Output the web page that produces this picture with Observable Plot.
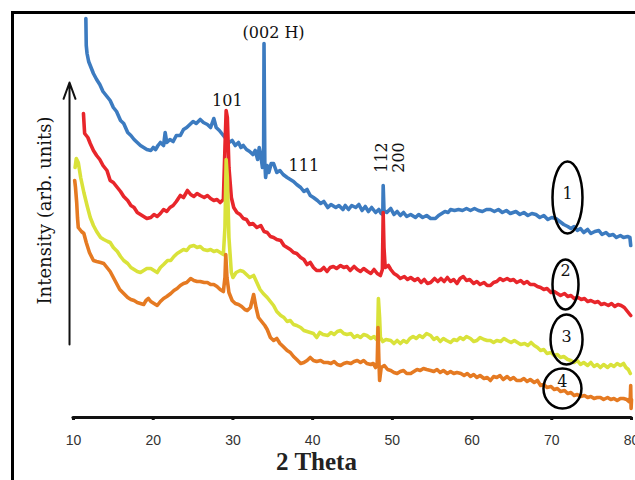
<!DOCTYPE html>
<html>
<head>
<meta charset="utf-8">
<script src="https://cdn.jsdelivr.net/npm/d3@7"></script>
<script src="https://cdn.jsdelivr.net/npm/@observablehq/plot@0.6"></script>
<style>
  html, body { margin: 0; padding: 0; background: #fff; }
  #wrap { position: relative; width: 635px; height: 480px; overflow: hidden; }
  #frame { position: absolute; left: 11px; top: 11px; width: 640px; height: 480px;
           border-left: 3px solid #000; border-top: 3px solid #000; pointer-events: none; }
</style>
</head>
<body>
<div id="wrap"><div id="frame"></div></div>
<script>
// 2θ (degrees) and intensity (arb. units)
const sample1 = [
  [11.55,399],[11.6,372],[11.7,364],[11.9,356],[12.2,350],[12.5,344],[12.9,338],[13.3,333],[13.7,326],[14.1,322],
  [14.6,317],[15.0,310],[15.4,306],[15.9,297],[16.3,294],[16.8,285],[17.2,282],[17.6,278],[18.0,275],[18.4,272],
  [18.8,270],[19.2,268],[19.7,267],[20.0,270],[20.3,268],[20.6,272],[20.9,275],[21.3,272],[21.5,285],[21.7,275],
  [22.1,278],[22.5,276],[22.9,282],[23.4,282],[23.8,288],[24.2,290],[24.6,293],[25.0,296],[25.4,294],[25.9,298],
  [26.3,295],[26.8,293],[27.2,290],[27.6,299],[27.9,290],[28.3,287],[28.7,283],[29.1,279],[29.5,275],[29.9,277],
  [30.3,272],[30.7,275],[31.0,270],[31.3,272],[31.7,268],[32.1,266],[32.5,263],[32.8,267],[33.1,258],[33.3,270],
  [33.5,262],[33.7,250],[33.85,260],[33.9,374],[34.0,255],[34.1,240],[34.3,252],[34.5,245],[34.8,254],[35.1,254],
  [35.5,245],[35.9,247],[36.3,243],[36.8,240],[37.2,238],[37.6,236],[38.0,233],[38.5,230],[38.9,226],[39.3,228],
  [39.7,222],[40.1,220],[40.6,217],[41.0,214],[41.4,216],[41.9,210],[42.3,213],[42.9,210],[43.3,212],[43.8,208],
  [44.1,212],[44.5,208],[44.9,212],[45.4,210],[45.8,213],[46.2,207],[46.6,211],[47.0,206],[47.4,210],[47.9,205],
  [48.3,208],[48.6,204],[48.8,203],[48.85,232],[48.95,207],[49.3,205],[49.8,209],[50.2,203],[50.6,206],[51.0,202],
  [51.4,205],[51.8,201],[52.3,203],[52.9,200],[53.3,203],[53.8,200],[54.3,202],[54.8,199],[55.4,199],[55.8,202],
  [56.2,204],[56.6,206],[57.0,205],[57.3,208],[57.8,207],[58.3,208],[58.8,207],[59.3,209],[59.8,207],[60.3,209],
  [60.8,207],[61.3,206],[61.8,208],[62.3,208],[62.8,206],[63.3,208],[63.8,205],[64.3,207],[64.8,204],[65.5,206],
  [66.0,203],[66.5,205],[67.0,202],[67.5,204],[68.0,203],[68.5,200],[69.0,202],[69.5,198],[70.0,200],[70.5,199],
  [71.0,196],[71.5,193],[72.0,191],[72.4,189],[72.8,191],[73.2,187],[73.6,189],[74.0,185],[74.5,188],[74.9,184],
  [75.4,186],[75.9,187],[76.3,183],[76.8,185],[77.2,182],[77.7,183],[78.1,180],[78.6,182],[79.0,180],[79.5,181],
  [79.8,180],[79.9,172]
];
const sample2 = [
  [11.25,304],[11.35,290],[11.4,284],[11.8,280],[12.1,274],[12.5,267],[12.9,262],[13.3,258],[13.7,252],[14.2,247],
  [14.6,237],[15.0,235],[15.5,230],[15.9,226],[16.3,221],[16.8,217],[17.2,212],[17.6,210],[18.0,205],[18.4,203],
  [18.8,201],[19.2,199],[19.7,200],[20.1,203],[20.5,201],[20.9,204],[21.3,208],[21.7,206],[22.1,210],[22.5,212],
  [22.9,216],[23.4,222],[23.8,220],[24.3,227],[24.7,223],[25.1,221],[25.5,224],[25.9,222],[26.4,220],[26.8,222],
  [27.2,219],[27.6,217],[28.0,218],[28.4,215],[28.8,218],[29.0,270],[29.15,307],[29.3,300],[29.5,250],[29.8,220],
  [30.1,210],[30.5,205],[30.9,203],[31.3,199],[31.7,198],[32.1,193],[32.5,194],[33.0,190],[33.5,192],[33.9,186],
  [34.3,185],[34.7,181],[35.1,180],[35.5,178],[36.0,177],[36.4,172],[36.8,170],[37.2,168],[37.6,165],[38.0,164],
  [38.5,160],[38.9,158],[39.3,153],[39.7,155],[40.1,150],[40.5,147],[41.0,147],[41.4,150],[41.8,146],[42.2,150],
  [42.6,151],[43.0,149],[43.5,152],[43.9,150],[44.3,151],[44.7,147],[45.2,151],[45.6,148],[46.0,146],[46.4,149],
  [46.9,146],[47.3,144],[47.7,148],[48.1,144],[48.5,142],[48.75,148],[48.85,205],[48.95,170],[49.1,150],[49.5,152],
  [49.8,148],[50.2,144],[50.6,142],[51.0,139],[51.5,141],[51.9,138],[52.3,140],[52.8,137],[53.2,139],[53.6,135],
  [54.0,138],[54.4,134],[54.8,135],[55.3,139],[55.7,136],[56.1,139],[56.5,136],[56.9,140],[57.3,136],[57.7,138],
  [58.1,134],[58.5,139],[58.9,141],[59.3,137],[59.7,138],[60.2,134],[60.6,136],[61.0,133],[61.5,135],[61.9,132],
  [62.3,132],[62.7,135],[63.1,136],[63.5,139],[63.9,137],[64.4,139],[64.8,137],[65.2,138],[65.6,135],[66.1,137],
  [66.5,134],[66.9,136],[67.3,133],[67.8,133],[68.2,131],[68.6,130],[69.0,128],[69.4,129],[69.9,125],[70.3,126],
  [70.7,124],[71.1,122],[71.6,124],[72.0,121],[72.4,122],[72.8,119],[73.3,120],[73.7,118],[74.1,119],[74.5,116],
  [74.9,117],[75.4,115],[75.8,116],[76.2,113],[76.6,114],[77.1,112],[77.5,114],[77.9,111],[78.3,113],[78.7,112],
  [79.1,110],[79.5,106],[79.9,102]
];
const sample3 = [
  [10.2,250],[10.35,259],[10.6,255],[10.9,240],[11.3,225],[11.7,212],[12.1,200],[12.5,192],[12.9,186],[13.4,180],
  [13.8,178],[14.3,176],[14.6,175],[15.0,170],[15.5,166],[15.9,161],[16.3,157],[16.8,154],[17.2,150],[17.6,148],
  [18.0,146],[18.4,145],[18.8,147],[19.2,149],[19.7,149],[20.1,147],[20.5,145],[20.9,150],[21.3,153],[21.8,157],
  [22.2,157],[22.6,161],[23.0,164],[23.4,166],[23.8,168],[24.2,167],[24.6,171],[25.1,172],[25.5,170],[25.9,171],
  [26.3,168],[26.8,167],[27.2,168],[27.6,166],[28.0,167],[28.4,165],[28.8,163],[29.0,190],[29.15,258],[29.3,240],
  [29.5,180],[29.8,145],[30.0,140],[30.4,145],[30.9,147],[31.3,146],[31.7,143],[32.1,140],[32.6,142],[33.0,135],
  [33.4,128],[33.8,124],[34.3,120],[34.7,116],[35.1,112],[35.5,106],[36.0,102],[36.4,100],[36.8,96],[37.2,97],
  [37.6,93],[38.0,92],[38.5,90],[38.9,87],[39.3,86],[39.7,85],[40.1,84],[40.5,80],[40.9,85],[41.3,83],
  [41.9,82],[42.3,85],[42.7,83],[43.1,86],[43.5,87],[43.9,84],[44.3,83],[44.8,84],[45.2,80],[45.6,82],
  [46.0,80],[46.4,83],[46.8,82],[47.3,79],[47.7,81],[48.0,78],[48.15,82],[48.25,119],[48.4,100],[48.5,80],
  [48.8,76],[49.2,78],[49.8,77],[50.2,74],[50.6,77],[51.0,74],[51.4,77],[51.8,75],[52.2,79],[52.6,81],
  [53.0,79],[53.4,82],[53.8,80],[54.3,84],[54.8,82],[55.2,78],[55.6,80],[56.0,76],[56.4,79],[56.8,77],
  [57.3,75],[57.7,78],[58.1,77],[58.5,80],[58.9,78],[59.3,81],[59.8,79],[60.2,76],[60.6,77],[61.0,80],
  [61.5,78],[61.9,77],[62.3,77],[62.7,75],[63.1,77],[63.6,76],[64.0,79],[64.4,77],[64.9,75],[65.3,77],
  [65.7,75],[66.1,73],[66.6,74],[67.0,72],[67.4,75],[67.8,72],[68.2,70],[68.6,67],[69.0,68],[69.4,64],
  [69.9,65],[70.3,62],[70.7,63],[71.1,60],[71.5,61],[72.0,58],[72.4,57],[72.8,55],[73.2,57],[73.6,53],
  [74.0,55],[74.5,52],[74.9,55],[75.3,51],[75.7,53],[76.1,50],[76.5,53],[77.0,50],[77.4,53],[77.8,51],
  [78.2,54],[78.6,52],[79.0,54],[79.3,50],[79.6,48],[79.85,44]
];
const sample4 = [
  [10.15,237],[10.25,230],[10.4,215],[10.5,200],[10.6,190],[11.0,186],[11.3,184],[11.6,175],[12.0,165],[12.5,157],
  [12.9,156],[13.4,155],[13.8,154],[14.2,150],[14.6,146],[15.0,140],[15.4,134],[15.8,128],[16.3,124],[16.8,120],
  [17.2,118],[17.6,117],[18.0,115],[18.4,114],[18.8,113],[19.1,117],[19.4,119],[19.7,116],[20.1,114],[20.5,112],
  [20.9,116],[21.3,119],[21.7,121],[22.2,124],[22.6,127],[23.0,129],[23.4,132],[23.8,134],[24.2,135],[24.7,139],
  [25.1,137],[25.5,136],[25.9,136],[26.4,135],[26.8,135],[27.2,133],[27.6,133],[28.0,131],[28.4,128],[28.8,126],
  [29.0,140],[29.1,163],[29.25,140],[29.5,125],[29.9,117],[30.3,114],[30.7,113],[31.1,111],[31.5,108],[31.8,107],
  [32.2,110],[32.6,123],[32.9,110],[33.2,100],[33.6,96],[34.0,92],[34.3,88],[34.7,80],[35.1,77],[35.5,79],
  [35.9,74],[36.3,71],[36.8,67],[37.2,65],[37.6,61],[38.0,58],[38.5,54],[38.9,55],[39.3,57],[39.7,60],
  [40.1,57],[40.5,56],[41.0,57],[41.4,55],[41.9,55],[42.3,54],[42.7,56],[43.1,53],[43.5,52],[43.9,54],
  [44.3,55],[44.8,54],[45.2,56],[45.6,57],[46.0,55],[46.4,57],[46.8,54],[47.3,53],[47.6,54],[47.9,50],
  [48.1,55],[48.2,90],[48.3,60],[48.4,37],[48.6,50],[49.0,52],[49.4,48],[49.8,47],[50.2,45],[50.6,44],
  [51.0,46],[51.4,47],[51.8,44],[52.3,44],[52.7,46],[53.1,48],[53.5,47],[53.9,49],[54.3,48],[54.8,47],
  [55.2,46],[55.6,48],[56.0,45],[56.4,47],[56.9,44],[57.3,46],[57.7,44],[58.1,45],[58.6,44],[59.0,42],
  [59.4,44],[59.8,41],[60.2,43],[60.6,40],[61.0,42],[61.5,39],[61.9,40],[62.3,37],[62.7,41],[63.1,40],
  [63.5,42],[63.9,38],[64.4,41],[64.8,38],[65.2,40],[65.6,37],[66.1,37],[66.5,39],[66.9,36],[67.3,38],
  [67.8,35],[68.2,37],[68.6,32],[69.0,33],[69.4,30],[69.9,31],[70.3,28],[70.7,29],[71.1,26],[71.6,27],
  [72.0,24],[72.4,25],[72.8,22],[73.2,23],[73.6,21],[74.1,22],[74.5,20],[74.9,21],[75.3,19],[75.7,20],
  [76.1,20],[76.5,18],[77.0,20],[77.4,18],[77.8,19],[78.2,17],[78.6,19],[79.0,19],[79.4,18],[79.7,16],
  [79.85,20],[79.9,32],[79.95,9],[80.0,18]
];

const sampleColors = ["#3c7bc0", "#e8262b", "#d9e23a", "#e57a22"];
const xTicks = [10, 20, 30, 40, 50, 60, 70, 80];

// peak labels (hkl), placed in data units
const peakLabels = ["(002 H)", "101", "111", "112\n200"];
const peakTheta = [35.1, 29.3, 38.9, 49.7];
const peakIntensity = [385, 317, 252, 260];
const peakRotate = [0, 0, 0, -90];

// sample markers (ellipses with numbers)
const markerLabels = ["1", "2", "3", "4"];
const markerTheta = [71.97, 71.72, 71.85, 71.34];
const markerIntensity = [220, 133, 78, 29];
const markerLabelIntensity = [224, 147, 81, 36];
const markerRx = [15, 13, 16, 19];
const markerRy = [36, 25, 25, 20];

// y-axis arrow (data units)
const arrowTheta = 9.5;
const arrowFrom = 73, arrowTo = 335;

const rows = (arr, s) => arr.map(([theta, intensity]) => ({sample: s, theta, intensity}));

function ellipseSymbol(rx, ry) {
  const k = 0.5523;
  return {
    draw(ctx) {
      ctx.moveTo(rx, 0);
      ctx.bezierCurveTo(rx, ry * k, rx * k, ry, 0, ry);
      ctx.bezierCurveTo(-rx * k, ry, -rx, ry * k, -rx, 0);
      ctx.bezierCurveTo(-rx, -ry * k, -rx * k, -ry, 0, -ry);
      ctx.bezierCurveTo(rx * k, -ry, rx, -ry * k, rx, 0);
      ctx.closePath();
    }
  };
}

const peaks = peakLabels.map((t, i) => ({text: t, theta: peakTheta[i], intensity: peakIntensity[i], rotate: peakRotate[i]}));
const markers = markerLabels.map((t, i) => ({text: t, theta: markerTheta[i], intensity: markerIntensity[i], ly: markerLabelIntensity[i]}));

const lineOpts = {x: "theta", y: "intensity", strokeWidth: 3.6, strokeLinejoin: "round", strokeLinecap: "round", clip: false};

const chart = Plot.plot({
  width: 635,
  height: 480,
  marginLeft: 73,
  marginRight: 4,
  marginTop: 17,
  marginBottom: 63,
  style: {background: "transparent", overflow: "visible"},
  x: {domain: [10, 80]},
  y: {domain: [0, 400], axis: null},
  marks: [
    Plot.line(rows(sample1, "1"), {...lineOpts, stroke: sampleColors[0]}),
    Plot.line(rows(sample2, "2"), {...lineOpts, stroke: sampleColors[1]}),
    Plot.line(rows(sample3, "3"), {...lineOpts, stroke: sampleColors[2]}),
    Plot.line(rows(sample4, "4"), {...lineOpts, stroke: sampleColors[3]}),
    Plot.ruleY([0], {stroke: "#111", strokeWidth: 3.2, strokeLinecap: "round"}),
    Plot.axisX({ticks: xTicks, tickSize: 3, tickPadding: 15, strokeWidth: 3, stroke: "#111",
      fontSize: 14, fontFamily: "Liberation Sans, sans-serif", color: "#333", label: null}),
    Plot.text(["2 Theta"], {frameAnchor: "bottom", dy: 52, dx: -36, fontFamily: "Liberation Serif, serif",
      fontWeight: "bold", fontSize: 25, fill: "#222", lineAnchor: "bottom"}),
    Plot.text(["Intensity (arb. units)"], {frameAnchor: "left", textAnchor: "middle", dx: -28, dy: -7, rotate: -90,
      fontFamily: "DejaVu Serif, serif", fontSize: 18, fill: "#111"}),
    Plot.arrow([{x: arrowTheta, y1: arrowFrom, y2: arrowTo}], {x1: "x", x2: "x", y1: "y1", y2: "y2",
      stroke: "#111", strokeWidth: 2, headLength: 13, headAngle: 40, clip: false}),
    Plot.text(peaks, {x: "theta", y: "intensity", text: "text", rotate: "rotate",
      fontFamily: "DejaVu Serif, serif", fontSize: 16, fill: "#111", lineHeight: 1.05}),
    ...markers.map((m, i) => Plot.dot([m], {x: "theta", y: "intensity", r: 10,
      symbol: ellipseSymbol(markerRx[i], markerRy[i]), stroke: "#000", strokeWidth: 2.5, fill: "none"})),
    Plot.text(markers, {x: "theta", y: "ly", text: "text", fontFamily: "DejaVu Serif, serif",
      fontSize: 16, fill: "#111"})
  ]
});
document.getElementById("wrap").prepend(chart);
</script>
</body>
</html>
